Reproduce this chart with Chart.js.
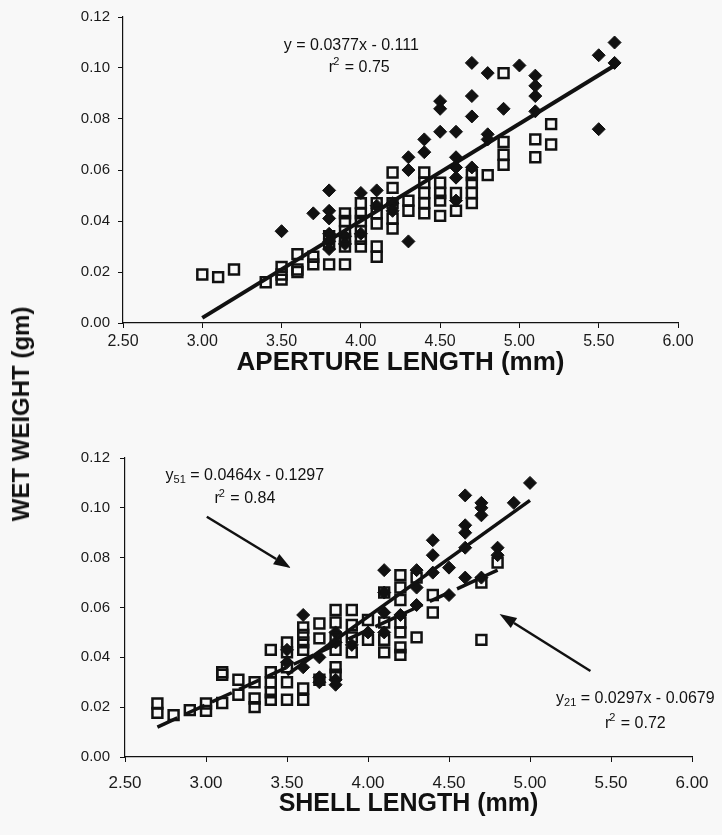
<!DOCTYPE html>
<html>
<head>
<meta charset="utf-8">
<script src="https://cdn.jsdelivr.net/npm/chart.js@4.4.0/dist/chart.umd.min.js"></script>
<style>
    body { margin: 0; background: #f8f8f8; width: 722px; height: 835px; position: relative; overflow: hidden; font-family: Arial, "Liberation Sans", sans-serif; }
    #topChart { position: absolute; left: 0; top: 0; }
    #bottomChart { position: absolute; left: 0; top: 420px; }
    #yTitle { position: absolute; left: 21px; top: 414px; transform: translate(-50%, -50%) rotate(-90deg); font-weight: bold; font-size: 24px; color: #111; white-space: nowrap; }
</style>
</head>
<body>
<canvas id="topChart" width="722" height="382"></canvas>
<canvas id="bottomChart" width="722" height="415"></canvas>
<div id="yTitle">WET WEIGHT (gm)</div>
<script>
// ---- data, [length, wet weight] ----
const apertureSquares = [
    [3.0, 0.019], [3.1, 0.018], [3.2, 0.021], [3.4, 0.016],
    [3.5, 0.022], [3.5, 0.019], [3.5, 0.017],
    [3.6, 0.027], [3.6, 0.021], [3.6, 0.020],
    [3.7, 0.026], [3.7, 0.023],
    [3.8, 0.023], [3.8, 0.031], [3.8, 0.034],
    [3.9, 0.023], [3.9, 0.030], [3.9, 0.033], [3.9, 0.036], [3.9, 0.040], [3.9, 0.043],
    [4.0, 0.047], [4.0, 0.043], [4.0, 0.040], [4.0, 0.036], [4.0, 0.033], [4.0, 0.030],
    [4.1, 0.047], [4.1, 0.043], [4.1, 0.039], [4.1, 0.030], [4.1, 0.026],
    [4.2, 0.059], [4.2, 0.053], [4.2, 0.047], [4.2, 0.041], [4.2, 0.037],
    [4.3, 0.048], [4.3, 0.044],
    [4.4, 0.059], [4.4, 0.055], [4.4, 0.051], [4.4, 0.047], [4.4, 0.043],
    [4.5, 0.055], [4.5, 0.051], [4.5, 0.048], [4.5, 0.042],
    [4.6, 0.051], [4.6, 0.044],
    [4.7, 0.058], [4.7, 0.055], [4.7, 0.051], [4.7, 0.047],
    [4.8, 0.058],
    [4.9, 0.098], [4.9, 0.071], [4.9, 0.066], [4.9, 0.062],
    [5.1, 0.072], [5.1, 0.065],
    [5.2, 0.078], [5.2, 0.070]
];
const apertureDiamonds = [
    [3.5, 0.036], [3.7, 0.043],
    [3.8, 0.052], [3.8, 0.044], [3.8, 0.041], [3.8, 0.035], [3.8, 0.032], [3.8, 0.029],
    [3.9, 0.034], [3.9, 0.031],
    [4.0, 0.051], [4.0, 0.035],
    [4.1, 0.052], [4.1, 0.046],
    [4.2, 0.047], [4.2, 0.044],
    [4.3, 0.065], [4.3, 0.060], [4.3, 0.032],
    [4.4, 0.072], [4.4, 0.067],
    [4.5, 0.087], [4.5, 0.084], [4.5, 0.075],
    [4.6, 0.075], [4.6, 0.065], [4.6, 0.061], [4.6, 0.057], [4.6, 0.048],
    [4.7, 0.102], [4.7, 0.089], [4.7, 0.081], [4.7, 0.061],
    [4.8, 0.098], [4.8, 0.074], [4.8, 0.072],
    [4.9, 0.084], [5.0, 0.101],
    [5.1, 0.097], [5.1, 0.093], [5.1, 0.089], [5.1, 0.083],
    [5.5, 0.105], [5.5, 0.076],
    [5.6, 0.110], [5.6, 0.102]
];
const apertureFit = [[3.0, 0.002], [5.6, 0.101]];

const shellSquares = [
    [2.7, 0.0215], [2.7, 0.0177], [2.8, 0.0168], [2.9, 0.0188],
    [3.0, 0.0215], [3.0, 0.0185],
    [3.1, 0.034], [3.1, 0.033], [3.1, 0.0217],
    [3.2, 0.031], [3.2, 0.025],
    [3.3, 0.030], [3.3, 0.0235], [3.3, 0.020],
    [3.4, 0.043], [3.4, 0.034], [3.4, 0.030], [3.4, 0.026], [3.4, 0.023],
    [3.5, 0.046], [3.5, 0.042], [3.5, 0.036], [3.5, 0.030], [3.5, 0.023],
    [3.6, 0.052], [3.6, 0.049], [3.6, 0.046], [3.6, 0.043], [3.6, 0.0275], [3.6, 0.023],
    [3.7, 0.0536], [3.7, 0.0476], [3.7, 0.031],
    [3.8, 0.059], [3.8, 0.054], [3.8, 0.048], [3.8, 0.043], [3.8, 0.036], [3.8, 0.033],
    [3.9, 0.059], [3.9, 0.053], [3.9, 0.048], [3.9, 0.042],
    [4.0, 0.055], [4.0, 0.047],
    [4.1, 0.066], [4.1, 0.054], [4.1, 0.047], [4.1, 0.042],
    [4.2, 0.073], [4.2, 0.068], [4.2, 0.063], [4.2, 0.054], [4.2, 0.050], [4.2, 0.044], [4.2, 0.041],
    [4.3, 0.072], [4.3, 0.048],
    [4.4, 0.065], [4.4, 0.058],
    [4.7, 0.070], [4.7, 0.047],
    [4.8, 0.078]
];
const shellDiamonds = [
    [3.5, 0.043], [3.5, 0.038],
    [3.6, 0.057], [3.6, 0.036],
    [3.7, 0.040], [3.7, 0.032], [3.7, 0.030],
    [3.8, 0.050], [3.8, 0.046], [3.8, 0.031], [3.8, 0.029],
    [3.9, 0.045], [4.0, 0.050],
    [4.1, 0.075], [4.1, 0.066], [4.1, 0.058], [4.1, 0.050],
    [4.2, 0.057],
    [4.3, 0.075], [4.3, 0.068], [4.3, 0.061],
    [4.4, 0.087], [4.4, 0.081], [4.4, 0.074],
    [4.5, 0.076], [4.5, 0.065],
    [4.6, 0.105], [4.6, 0.093], [4.6, 0.090], [4.6, 0.084], [4.6, 0.072],
    [4.7, 0.102], [4.7, 0.100], [4.7, 0.097], [4.7, 0.072],
    [4.8, 0.084], [4.8, 0.081],
    [4.9, 0.102], [5.0, 0.110]
];
const shellFit51 = [[3.5, 0.033], [5.0, 0.103]];
const shellFit21 = [[2.7, 0.012], [4.8, 0.075]];

const INK = '#111';

function pts(list) {
    return list.map(p => ({ x: p[0], y: p[1] }));
}

// draws the fit equations and arrows at data positions
const notesPlugin = {
    id: 'notes',
    afterDatasetsDraw(chart, args, opts) {
        const ctx = chart.ctx;
        const xs = chart.scales.x, ys = chart.scales.y;
        const px = v => xs.getPixelForValue(v);
        const py = v => ys.getPixelForValue(v);
        const size = opts.size || 15;
        ctx.save();
        ctx.fillStyle = INK;
        ctx.strokeStyle = INK;
        ctx.textBaseline = 'alphabetic';

        (opts.equations || []).forEach(eq => {
            const big = size + 'px Arial, "Liberation Sans", sans-serif';
            const small = Math.round(size * 0.7) + 'px Arial, "Liberation Sans", sans-serif';
            ctx.font = big;
            const wy = ctx.measureText('y').width;
            const wr = ctx.measureText(eq.text).width;
            ctx.font = small;
            const ws = eq.sub ? ctx.measureText(eq.sub).width : 0;
            let x = px(eq.at[0]) - (wy + ws + wr) / 2;
            const y = py(eq.at[1]) + size * 0.35;
            ctx.font = big;
            ctx.fillText('y', x, y);
            x += wy;
            if (eq.sub) {
                ctx.font = small;
                ctx.fillText(eq.sub, x, y + size * 0.2);
                x += ws;
            }
            ctx.font = big;
            ctx.fillText(eq.text, x, y);
        });

        (opts.r2 || []).forEach(r => {
            const big = size + 'px Arial, "Liberation Sans", sans-serif';
            const small = Math.round(size * 0.7) + 'px Arial, "Liberation Sans", sans-serif';
            const rest = ' = ' + r.value;
            ctx.font = big;
            const w1 = ctx.measureText('r').width;
            const w3 = ctx.measureText(rest).width;
            ctx.font = small;
            const w2 = ctx.measureText('2').width;
            let x = px(r.at[0]) - (w1 + w2 + w3) / 2;
            const y = py(r.at[1]) + size * 0.35;
            ctx.font = big;
            ctx.fillText('r', x, y);
            x += w1 - 1;
            ctx.font = small;
            ctx.fillText('2', x, y - size * 0.42);
            x += w2 + 1;
            ctx.font = big;
            ctx.fillText(rest, x, y);
        });

        (opts.arrows || []).forEach(a => {
            const x1 = px(a.from[0]), y1 = py(a.from[1]);
            const x2 = px(a.to[0]), y2 = py(a.to[1]);
            const ang = Math.atan2(y2 - y1, x2 - x1);
            const head = 17, half = 6;
            const bx = x2 - Math.cos(ang) * head, by = y2 - Math.sin(ang) * head;
            ctx.lineWidth = 2.5;
            ctx.beginPath();
            ctx.moveTo(x1, y1);
            ctx.lineTo(bx, by);
            ctx.stroke();
            ctx.beginPath();
            ctx.moveTo(x2, y2);
            ctx.lineTo(bx + Math.sin(ang) * half, by - Math.cos(ang) * half);
            ctx.lineTo(bx - Math.sin(ang) * half, by + Math.cos(ang) * half);
            ctx.closePath();
            ctx.fill();
        });
        ctx.restore();
    }
};

function makeOptions(o) {
    return {
        responsive: false,
        animation: false,
        layout: { padding: { top: o.padTop, right: o.padRight, left: 0, bottom: 0 } },
        plugins: {
            legend: { display: false },
            tooltip: { enabled: false },
            notes: o.notes
        },
        scales: {
            x: {
                type: 'linear',
                min: 2.5,
                max: 6.0,
                afterFit: s => { s.height = o.xHeight; },
                border: { display: true, color: INK, width: 1.2 },
                grid: { display: true, drawOnChartArea: false, drawTicks: true, tickLength: 5, color: INK },
                ticks: {
                    stepSize: 0.5,
                    padding: o.xTickPad,
                    color: '#1a1a1a',
                    font: { family: 'Arial, "Liberation Sans", sans-serif', size: o.xTickSize },
                    callback: v => v.toFixed(2)
                },
                title: {
                    display: true,
                    text: o.xTitle,
                    color: INK,
                    padding: { top: 0, bottom: o.titlePad },
                    font: { family: 'Arial, "Liberation Sans", sans-serif', size: o.titleSize, weight: 'bold' }
                }
            },
            y: {
                type: 'linear',
                min: 0,
                max: 0.12,
                afterFit: s => { s.width = o.yWidth; },
                border: { display: true, color: INK, width: 1.2 },
                grid: { display: true, drawOnChartArea: false, drawTicks: true, tickLength: 5, color: INK },
                ticks: {
                    stepSize: 0.02,
                    padding: o.yTickPad,
                    color: '#1a1a1a',
                    font: { family: 'Arial, "Liberation Sans", sans-serif', size: 15 },
                    callback: v => v.toFixed(2)
                }
            }
        }
    };
}

function fitLine(list, width, dash) {
    return {
        data: pts(list),
        showLine: true,
        borderColor: INK,
        borderWidth: width,
        borderDash: dash || [],
        pointRadius: 0
    };
}

function squareSet(list) {
    return {
        data: pts(list),
        pointStyle: 'rect',
        pointRadius: 7,
        backgroundColor: 'rgba(0,0,0,0)',
        borderColor: INK,
        borderWidth: 2.5,
        showLine: false
    };
}

function diamondSet(list) {
    return {
        data: pts(list),
        pointStyle: 'rectRot',
        pointRadius: 6.5,
        backgroundColor: INK,
        borderColor: INK,
        borderWidth: 1,
        showLine: false
    };
}

new Chart(document.getElementById('topChart'), {
    type: 'scatter',
    data: {
        datasets: [
            fitLine(apertureFit, 4),
            squareSet(apertureSquares),
            diamondSet(apertureDiamonds)
        ]
    },
    options: makeOptions({
        padTop: 12, padRight: 44, xHeight: 59, yWidth: 123,
        xTickPad: 4, yTickPad: 8, xTickSize: 16, titlePad: 4, titleSize: 26,
        xTitle: 'APERTURE LENGTH (mm)',
        notes: {
            size: 16,
            equations: [{ text: ' = 0.0377x - 0.111', at: [3.94, 0.1093] }],
            r2: [{ value: '0.75', at: [3.99, 0.1008] }]
        }
    }),
    plugins: [notesPlugin]
});

new Chart(document.getElementById('bottomChart'), {
    type: 'scatter',
    data: {
        datasets: [
            fitLine(shellFit51, 3.5),
            fitLine(shellFit21, 3.5, [22, 8]),
            squareSet(shellSquares),
            diamondSet(shellDiamonds)
        ]
    },
    options: makeOptions({
        padTop: 38, padRight: 30, xHeight: 78, yWidth: 125,
        xTickPad: 11, yTickPad: 10, xTickSize: 17, titlePad: 16, titleSize: 25,
        xTitle: 'SHELL LENGTH (mm)',
        notes: {
            size: 16,
            equations: [
                { sub: '51', text: ' = 0.0464x - 0.1297', at: [3.24, 0.1133] },
                { sub: '21', text: ' = 0.0297x - 0.0679', at: [5.65, 0.024] }
            ],
            r2: [
                { value: '0.84', at: [3.24, 0.104] },
                { value: '0.72', at: [5.65, 0.014] }
            ],
            arrows: [
                { from: [3.005, 0.0964], to: [3.523, 0.0759] },
                { from: [5.373, 0.0345], to: [4.812, 0.0574] }
            ]
        }
    }),
    plugins: [notesPlugin]
});
</script>
</body>
</html>
